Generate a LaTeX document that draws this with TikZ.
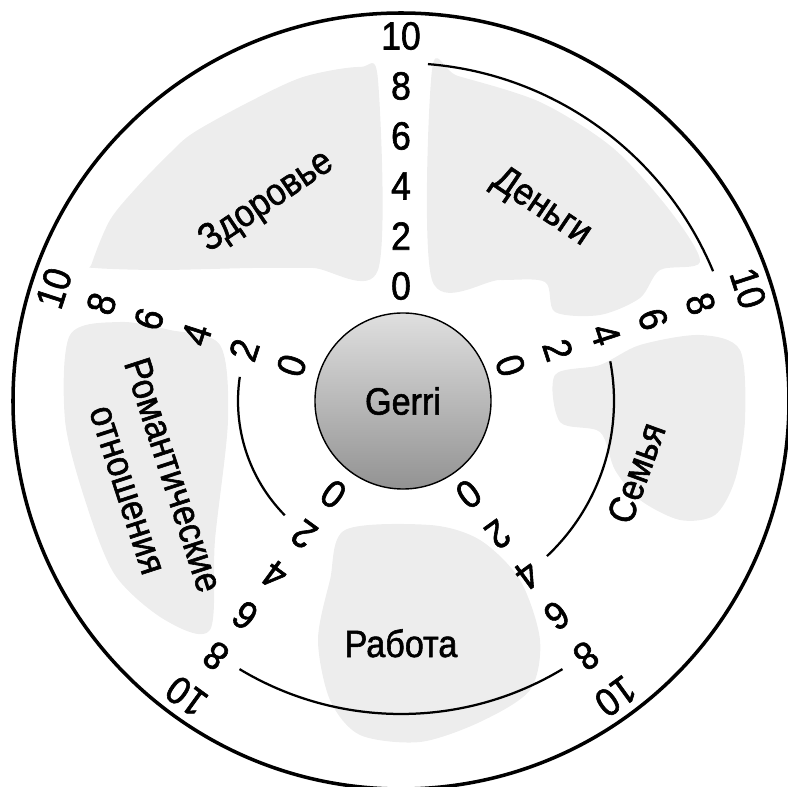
\documentclass[tikz,border=0pt]{standalone}
\usepackage{fontspec}
\setmainfont{Liberation Sans}[FakeStretch=0.9, FakeBold=1.5]
\usetikzlibrary{calc}

\begin{document}
\begin{tikzpicture}[
  x=0.025cm, y=0.025cm,
  num/.style={font=\fontsize{28}{30}\selectfont, inner sep=0pt},
  sector/.style={font=\fontsize{27}{34}\selectfont, align=center, inner sep=0pt},
  level/.style={line width=1.6pt},
  rim/.style={line width=2.5pt},
  land/.style={fill=gray!14, draw=none},
  person/.style={
    circle, draw=black, line width=1pt, minimum size=4.4cm,
    top color=gray!25, middle color=gray!50, bottom color=gray!85,
    font=\fontsize{27}{30}\selectfont
  },
]
\useasboundingbox (-401,-386) rectangle (387,401);

%% Map in the background (image coordinates)
\begin{scope}[shift={(-401,401)}, yscale=-1]
  \fill[land] plot[smooth cycle] coordinates {(92,263) (110,220) (137,187) (170,153) (193,133)
    (247,103) (303,77) (360,67) (378,80) (378,270) (313,268) (253,268) (160,270) (95,268)};
  \fill[land] plot[smooth cycle] coordinates {(432,70) (458,76) (540,102) (613,148) (671,212)
    (700,262) (660,270) (640,298) (600,315) (555,312) (545,282) (500,280) (432,280)};
  \fill[land] plot[smooth cycle] coordinates {(555,375) (600,365) (640,345) (700,335) (740,350)
    (745,420) (735,480) (715,515) (680,520) (640,500) (615,470) (600,432) (560,422)};
  \fill[land] plot[smooth cycle] coordinates {(70,335) (120,322) (170,330) (220,345) (228,420)
    (215,540) (210,630) (165,620) (115,575) (85,500) (65,420)};
  \fill[land] plot[smooth cycle] coordinates {(345,530) (430,525) (480,540) (520,580) (540,640)
    (530,690) (480,722) (420,742) (360,735) (330,700) (318,640) (330,580)};
\end{scope}

%% Outer rim
\draw[rim] (0,0) circle (388);

%% Level arcs (one per sector)
\foreach \mid/\v in {54/9, -18/4, -90/8, 198/2} {
  \pgfmathsetmacro\r{113+25*\v}
  \pgfmathsetmacro\h{36-1547/\r}
  \draw[level] ({\mid+\h}:\r) arc[start angle={\mid+\h}, end angle={\mid-\h}, radius=\r];
}

%% Scales 0..10 on the five spokes
\foreach \k in {0,...,4} {
  \foreach \v in {0,2,...,10} {
    \node[num, rotate=-72*\k] (n\k-\v) at ({90-72*\k}:{115+25*\v}) {\v};
  }
}

%% Sector names
\node[sector, rotate=34]  (health)  at (124:240) {Здоровье};
\node[sector, rotate=-34] (money)   at (54:239)  {Деньги};
\node[sector, rotate=70]  (family)  at (-17:246) {Семья};
\node[sector, anchor=base] (work)   at (-90:256) {Работа};
\node[sector, rotate=-72] (romance) at (198:263) {Романтические\\отношения};

%% Centre
\node[person] (gerri) at (2,0) {Gerri};

\end{tikzpicture}
\end{document}
